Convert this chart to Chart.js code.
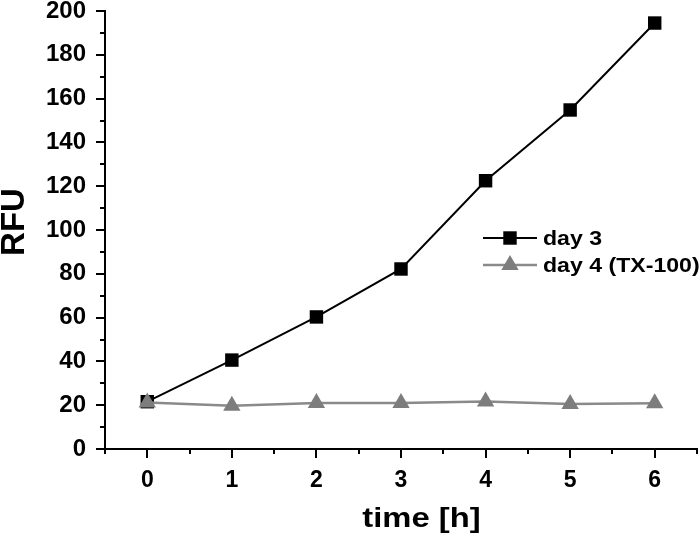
<!DOCTYPE html>
<html>
<head>
<meta charset="utf-8">
<script src="https://cdn.jsdelivr.net/npm/chart.js@4.4.0/dist/chart.umd.min.js"></script>
<style>
  html, body { margin: 0; padding: 0; background: #fff; }
  #wrap { width: 699px; height: 536px; }
</style>
</head>
<body>
<div id="wrap"><canvas id="c" width="699" height="536"></canvas></div>
<script>
const hours = [0, 1, 2, 3, 4, 5, 6];
const day3 = [21.6, 40.6, 60.3, 82.2, 122.5, 154.8, 194.5];
const day4 = [21.2, 19.8, 21.0, 21.0, 21.7, 20.6, 20.9];
const seriesLabels = ['day 3', 'day 4 (TX-100)'];
const xTickLabels = ['0', '1', '2', '3', '4', '5', '6'];
const yTickLabels = ['0', '20', '40', '60', '80', '100', '120', '140', '160', '180', '200'];
const xTitle = 'time [h]';
const yTitle = 'RFU';

const FONT = "'Liberation Sans', Arial, Helvetica, sans-serif";

const minorTicks = {
  id: 'minorTicks',
  afterDraw(chart) {
    const ctx = chart.ctx;
    const xs = chart.scales.x, ys = chart.scales.y;
    ctx.save();
    ctx.strokeStyle = '#000';
    ctx.lineWidth = 2;
    ctx.beginPath();
    for (let v = -0.5; v <= 6.5001; v += 1) {
      const px = Math.round(xs.getPixelForValue(v));
      ctx.moveTo(px, ys.bottom);
      ctx.lineTo(px, ys.bottom + 5);
    }
    for (let v = 10; v < 200; v += 20) {
      const py = Math.round(ys.getPixelForValue(v));
      ctx.moveTo(xs.left, py);
      ctx.lineTo(xs.left - 5, py);
    }
    ctx.stroke();
    ctx.restore();
  }
};

const titles = {
  id: 'titles',
  afterDraw(chart) {
    const ctx = chart.ctx;
    ctx.save();
    ctx.fillStyle = '#000';
    ctx.textAlign = 'center';
    ctx.textBaseline = 'alphabetic';
    ctx.save();
    ctx.translate(421.5, 527);
    ctx.scale(1.17, 1);
    ctx.font = 'bold 28px ' + FONT;
    ctx.fillText(xTitle, 0, 0);
    ctx.restore();
    ctx.font = 'bold 33px ' + FONT;
    ctx.translate(24, 222);
    ctx.rotate(-Math.PI / 2);
    ctx.fillText(yTitle, 0, 0);
    ctx.restore();
  }
};

const customLegend = {
  id: 'customLegend',
  afterDraw(chart) {
    const ctx = chart.ctx;
    const rows = [238, 265];
    chart.data.datasets.forEach((ds, i) => {
      const y = rows[i];
      ctx.save();
      ctx.strokeStyle = ds.borderColor;
      ctx.lineWidth = ds.borderWidth;
      ctx.beginPath();
      ctx.moveTo(483, y);
      ctx.lineTo(537, y);
      ctx.stroke();
      ctx.fillStyle = ds.pointBackgroundColor;
      ctx.beginPath();
      if (ds.pointStyle === 'rect') {
        const s = ds.pointRadius * Math.SQRT1_2;
        ctx.rect(510 - s, y - s, 2 * s, 2 * s);
      } else {
        const r = ds.pointRadius;
        ctx.moveTo(510, y - r);
        ctx.lineTo(510 + r * Math.sin(Math.PI * 2 / 3), y - r * Math.cos(Math.PI * 2 / 3));
        ctx.lineTo(510 + r * Math.sin(Math.PI * 4 / 3), y - r * Math.cos(Math.PI * 4 / 3));
        ctx.closePath();
      }
      ctx.fill();
      ctx.fillStyle = '#000';
      ctx.translate(543, y + 7);
      ctx.scale(1.1, 1);
      ctx.font = 'bold 21px ' + FONT;
      ctx.textBaseline = 'alphabetic';
      ctx.textAlign = 'left';
      ctx.fillText(ds.label, 0, 0);
      ctx.restore();
    });
  }
};

new Chart(document.getElementById('c'), {
  type: 'line',
  data: {
    datasets: [
      {
        label: seriesLabels[0],
        data: hours.map((h, i) => ({ x: h, y: day3[i] })),
        borderColor: '#000',
        backgroundColor: '#000',
        pointBackgroundColor: '#000',
        pointBorderColor: '#000',
        borderWidth: 2,
        pointStyle: 'rect',
        pointRadius: 9.5,
        pointBorderWidth: 0,
        tension: 0,
        clip: false,
        order: 1
      },
      {
        label: seriesLabels[1],
        data: hours.map((h, i) => ({ x: h, y: day4[i] })),
        borderColor: '#8a8a8a',
        backgroundColor: '#7d7d7d',
        pointBackgroundColor: '#7d7d7d',
        pointBorderColor: '#7d7d7d',
        borderWidth: 2.5,
        pointStyle: 'triangle',
        pointRadius: 10,
        pointBorderWidth: 0,
        tension: 0,
        clip: false,
        order: 0
      }
    ]
  },
  options: {
    responsive: false,
    animation: false,
    layout: { autoPadding: false, padding: { top: 0, right: 2, left: 0, bottom: 0 } },
    plugins: {
      legend: { display: false },
      tooltip: { enabled: false }
    },
    scales: {
      x: {
        type: 'linear',
        min: -0.5,
        max: 6.5,
        afterFit(scale) { scale.height = 87; scale.paddingLeft = 0; scale.paddingRight = 0; },
        afterBuildTicks(scale) {
          scale.ticks = hours.map(v => ({ value: v }));
        },
        ticks: {
          autoSkip: false,
          maxRotation: 0,
          color: '#000',
          padding: 9,
          font: { family: FONT, size: 23, weight: 'bold' },
          callback(v) { const i = hours.indexOf(v); return i >= 0 ? xTickLabels[i] : ''; }
        },
        grid: {
          drawOnChartArea: false,
          drawTicks: true,
          tickLength: 9,
          color: '#000',
          lineWidth: 2
        },
        border: { display: true, color: '#000', width: 2 }
      },
      y: {
        type: 'linear',
        min: 0,
        max: 200,
        afterFit(scale) { scale.width = 105; scale.paddingTop = 11; },
        afterBuildTicks(scale) {
          scale.ticks = yTickLabels.map(t => ({ value: Number(t) }));
        },
        ticks: {
          autoSkip: false,
          color: '#000',
          padding: 10,
          font: { family: FONT, size: 24, weight: 'bold', lineHeight: 0.9 },
          callback(v) { return String(v); }
        },
        grid: {
          drawOnChartArea: false,
          drawTicks: true,
          tickLength: 9,
          color: '#000',
          lineWidth: 2
        },
        border: { display: true, color: '#000', width: 2 }
      }
    }
  },
  plugins: [minorTicks, customLegend, titles]
});
</script>
</body>
</html>
